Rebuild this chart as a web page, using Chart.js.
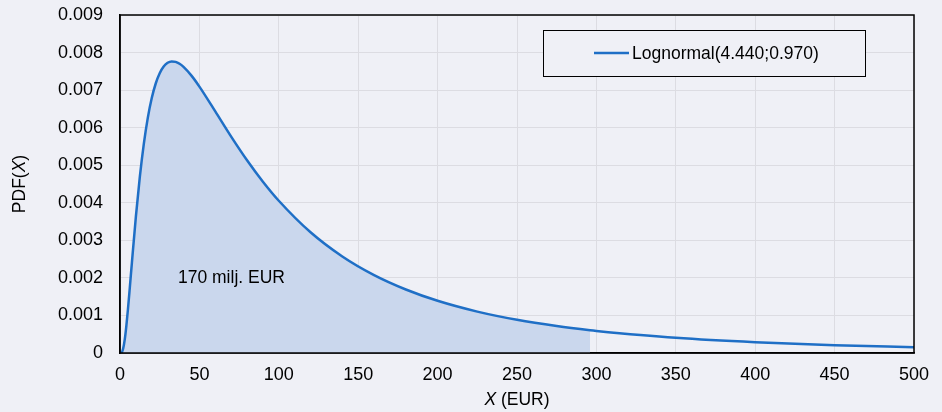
<!DOCTYPE html>
<html>
<head>
<meta charset="utf-8">
<script src="https://cdn.jsdelivr.net/npm/chart.js@4/dist/chart.umd.min.js"></script>
<style>
  html, body { margin: 0; padding: 0; background: #eff0f6; }
  #wrap { width: 942px; height: 412px; }
</style>
</head>
<body>
<div id="wrap"><canvas id="myChart"></canvas></div>
<script>
// values
const xVals = [0, 1, 2, 3, 4, 5, 6, 7.5, 10, 12.5, 15, 17.5, 20, 22.5, 25, 27.5, 30, 32.5, 35, 37.5, 40, 45, 50,
  60, 70, 80, 90, 100, 120, 140, 160, 180, 200, 225, 250, 275, 296, 300, 350, 400, 450, 500];
const pdfVals = [0, 0.0000116, 0.000118, 0.000363, 0.000724, 0.001165, 0.001651, 0.002409, 0.00363, 0.004694,
  0.005569, 0.006261, 0.006788, 0.007176, 0.007449, 0.007626, 0.007727, 0.007765, 0.007753, 0.007701,
  0.007618, 0.007385, 0.007093, 0.006433, 0.005762, 0.005132, 0.004561, 0.004054, 0.003214, 0.00257,
  0.002074, 0.001691, 0.00139, 0.001102, 0.000884, 0.000717, 0.000605, 0.000587, 0.000404, 0.000286,
  0.000208, 0.000154];
const shadeTo = 296;
const seriesLabel = "Lognormal(4.440;0.970)";
const noteText = "170 milj. EUR";
const notePos = [36.5, 0.002];

const curve = xVals.map((x, i) => ({ x: x, y: pdfVals[i] }));
const shaded = curve.filter((p) => p.x <= shadeTo);

const FONT = "Liberation Sans, Arial, sans-serif";

const extras = {
  id: "extras",
  afterDraw(chart) {
    const ctx = chart.ctx;
    const a = chart.chartArea;
    const xs = chart.scales.x;
    const ys = chart.scales.y;
    ctx.save();
    // frame
    ctx.strokeStyle = "#000";
    ctx.lineWidth = 1.5;
    ctx.strokeRect(a.left, a.top, a.right - a.left, a.bottom - a.top);

    // note
    ctx.fillStyle = "#000";
    ctx.font = "17.5px " + FONT;
    ctx.textAlign = "left";
    ctx.textBaseline = "middle";
    ctx.fillText(noteText, xs.getPixelForValue(notePos[0]), ys.getPixelForValue(notePos[1]));

    // legend box
    ctx.fillStyle = "#eff0f6";
    ctx.fillRect(543, 30, 322, 46);
    ctx.strokeStyle = "#000";
    ctx.lineWidth = 1;
    ctx.strokeRect(543.5, 30.5, 322, 46);
    ctx.strokeStyle = "#1f6fc6";
    ctx.lineWidth = 2.5;
    ctx.beginPath();
    ctx.moveTo(594, 53);
    ctx.lineTo(629, 53);
    ctx.stroke();
    ctx.fillStyle = "#000";
    ctx.fillText(seriesLabel, 632, 54);

    // x title: "X (EUR)" with italic X
    const xt1 = "X", xt2 = " (EUR)";
    ctx.font = "italic 17.5px " + FONT;
    const w1 = ctx.measureText(xt1).width;
    ctx.font = "17.5px " + FONT;
    const w2 = ctx.measureText(xt2).width;
    let sx = (a.left + a.right) / 2 - (w1 + w2) / 2;
    ctx.font = "italic 17.5px " + FONT;
    ctx.fillText(xt1, sx, 400);
    ctx.font = "17.5px " + FONT;
    ctx.fillText(xt2, sx + w1, 400);

    // y title: "PDF(X)" rotated
    ctx.translate(20, (a.top + a.bottom) / 2);
    ctx.rotate(-Math.PI / 2);
    const p1 = "PDF(", p2 = "X", p3 = ")";
    ctx.font = "17.5px " + FONT;
    const q1 = ctx.measureText(p1).width, q3 = ctx.measureText(p3).width;
    ctx.font = "italic 17.5px " + FONT;
    const q2 = ctx.measureText(p2).width;
    let sy = -(q1 + q2 + q3) / 2;
    ctx.font = "17.5px " + FONT;
    ctx.fillText(p1, sy, 0);
    ctx.font = "italic 17.5px " + FONT;
    ctx.fillText(p2, sy + q1, 0);
    ctx.font = "17.5px " + FONT;
    ctx.fillText(p3, sy + q1 + q2, 0);
    ctx.restore();
  },
};

const data = {
  datasets: [
    {
      label: seriesLabel,
      data: curve,
      fill: false,
      borderColor: "#1f6fc6",
      borderWidth: 2.5,
      pointRadius: 0,
      cubicInterpolationMode: "monotone",
      order: 1,
    },
    {
      label: "shade",
      data: shaded,
      fill: "origin",
      backgroundColor: "#cad7ed",
      borderWidth: 0,
      pointRadius: 0,
      cubicInterpolationMode: "monotone",
      order: 2,
    },
  ],
};

const config = {
  type: "line",
  data: data,
  options: {
    responsive: true,
    maintainAspectRatio: false,
    animation: false,
    layout: { padding: { top: 15, right: 28, left: 0, bottom: 0 } },
    plugins: {
      legend: { display: false },
      title: { display: false },
      tooltip: { enabled: false },
    },
    scales: {
      x: {
        type: "linear",
        min: 0,
        max: 500,
        afterFit: (s) => {
          s.height = 59;
          s.paddingLeft = 0;
          s.paddingRight = 0;
        },
        grid: { color: "#dcdce2", lineWidth: 1, drawTicks: false },
        border: { color: "#000", width: 1.5 },
        ticks: {
          stepSize: 50,
          padding: 11,
          color: "#000",
          font: { family: FONT, size: 18 },
        },
      },
      y: {
        min: 0,
        max: 0.009,
        afterFit: (s) => {
          s.width = 120;
          s.paddingTop = 0;
          s.paddingBottom = 0;
        },
        grid: { color: "#dcdce2", lineWidth: 1, drawTicks: false },
        border: { color: "#000", width: 1.5 },
        ticks: {
          stepSize: 0.001,
          padding: 17,
          color: "#000",
          font: { family: FONT, size: 18 },
          callback: (v) => (v === 0 ? "0" : v.toFixed(3)),
        },
      },
    },
  },
  plugins: [extras],
};

var myChart = new Chart(document.getElementById("myChart"), config);
</script>
</body>
</html>
